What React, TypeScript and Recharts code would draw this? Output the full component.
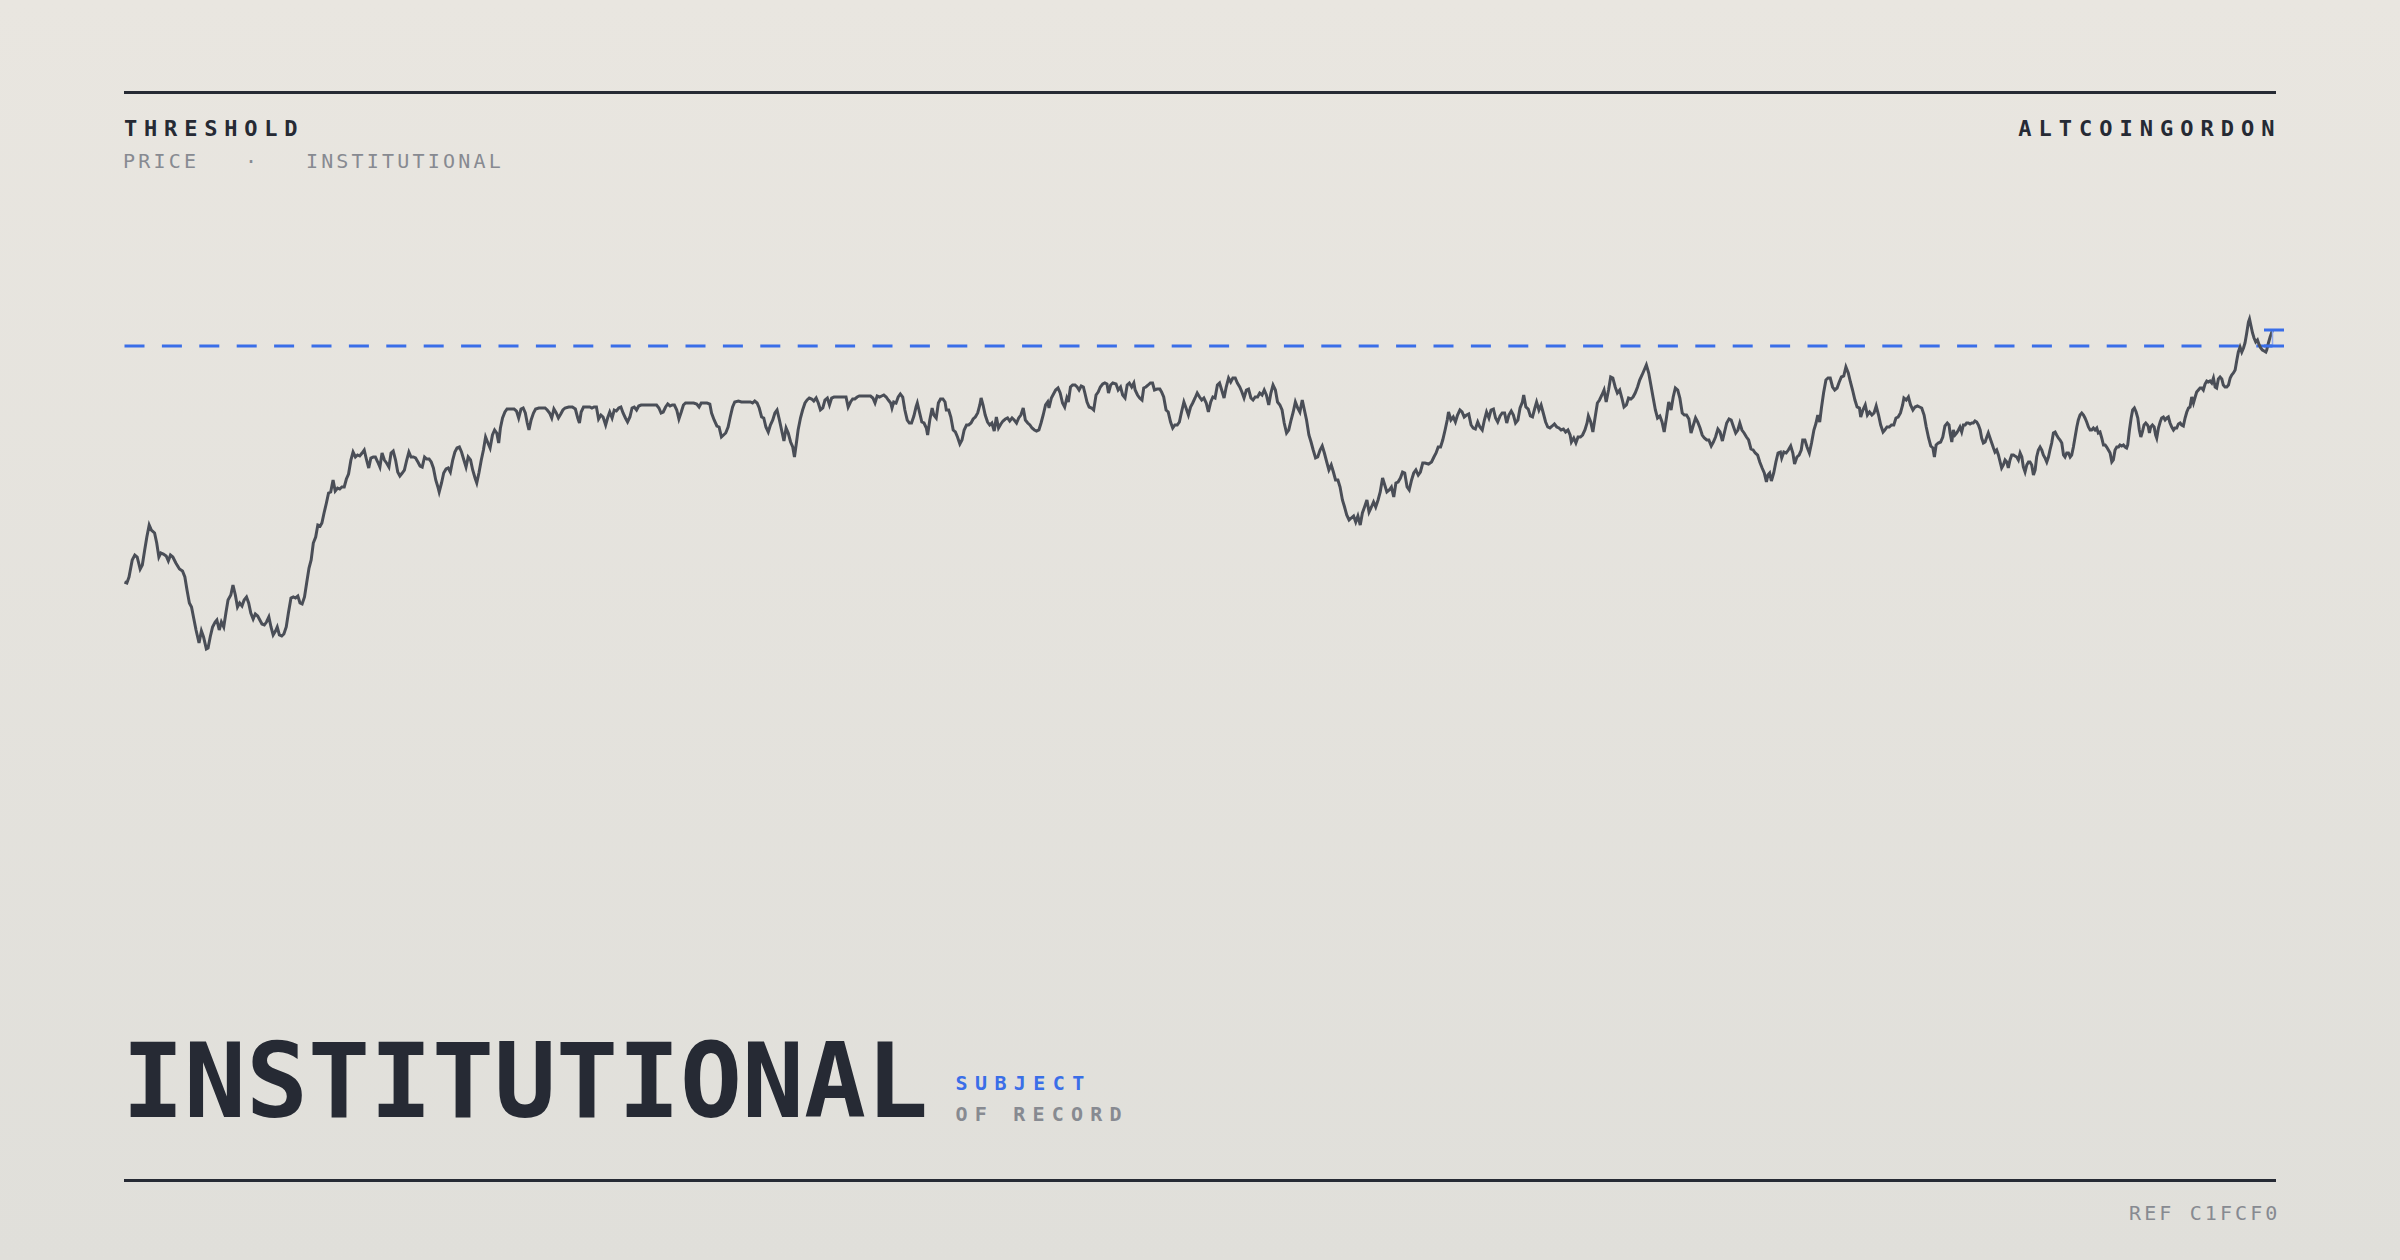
import { LineChart, Line, XAxis, YAxis, ReferenceLine, ReferenceDot } from 'recharts';

// closing prices by session in four legs
const leg1: [number, number][] = [[0,76.4],[1.1,76.3],[2.1,76.9],[3.6,78.6],[4.8,79.1],[5.9,78.9],[7.3,77.7],[8.3,78.1],[9.4,79.6],[10.4,80.9],[11.5,82.1],[12.5,81.6],[14,81.3],[15,80.3],[16,78.9],[16.9,79.3],[18.1,79.2],[19.4,79.0],[20.4,78.5],[21.4,79.1],[22.5,78.9],[23.9,78.3],[25.6,77.7],[27,77.5],[28.1,76.9],[29.1,75.6],[30.2,74.3],[31.2,73.9],[32.2,72.8],[33.3,71.6],[34.7,70.3],[35.8,71.5],[36.8,70.9],[38.1,69.7],[38.9,69.8],[39.9,70.9],[41,71.9],[42.2,72.4],[43,72.6],[44.1,71.6],[45.1,72.4],[46.2,71.9],[47.2,73.3],[48.2,74.6],[49.5,75.1],[50.5,76.1],[51.6,75.1],[52.6,73.9],[53.6,74.3],[54.7,74.0],[55.7,74.6],[56.8,74.9],[57.8,74.3],[58.8,73.3],[59.9,72.7],[60.9,73.2],[62,73.0],[63,72.6],[64,72.2],[65.1,72.1],[66.1,72.4],[67.2,72.9],[68.2,71.9],[69.2,71.1],[70.3,71.5],[71.1,71.9],[72.1,71.1],[73.2,71.0],[74.2,71.2],[75.3,71.9],[76.3,73.3],[77.5,74.8],[78.6,74.9],[79.6,74.8],[80.7,75.0],[81.7,74.3],[82.7,74.2],[83.8,74.9],[84.8,76.3],[85.9,77.8],[86.9,78.6],[87.9,80.3],[89,80.9],[90,82.1],[91.1,82.0],[91.9,82.3],[92.9,83.3],[94,84.3],[95,85.3],[96,85.4],[97.1,86.6],[98.1,85.5],[99.2,85.8],[100.2,85.7],[101.2,85.9],[102.3,85.9],[103.3,86.7],[104.3,87.2],[105.4,88.6],[106.4,89.4],[107.5,88.9],[108.5,89.1],[109.5,89.0],[110.6,89.3],[111.6,89.6],[112.7,88.6],[113.7,87.8],[114.7,88.8],[115.8,88.9],[116.8,88.9],[117.9,88.4],[118.9,87.9],[119.9,89.3],[121,88.6],[122,88.3],[123.1,87.9],[124.1,89.3],[125.1,89.5],[126.2,88.6],[127.2,87.4],[128.2,87.0],[129.3,87.3],[130.3,87.6],[131.4,88.6],[132.4,89.4],[133.4,88.9],[134.5,88.9],[135.5,88.8],[136.6,88.4],[137.6,88.0],[138.6,87.9],[139.7,88.9],[140.7,88.7],[141.8,88.7],[142.8,88.4],[143.8,87.8],[144.9,86.6],[145.9,85.9],[146.5,85.4],[147.6,86.3],[148.6,87.3],[149.7,87.7],[150.7,87.8],[151.7,87.4],[152.8,88.6],[153.8,89.4],[154.8,89.8],[155.9,89.9],[156.9,89.4],[158,88.6],[159,87.9],[160,88.9],[161.1,88.6],[162.1,87.6],[163.2,86.8],[164,86.3],[165,87.3],[166.1,88.6],[167.1,89.6],[168.1,90.9],[169.2,90.3],[170.2,89.8],[171.3,91.1],[172.3,91.6],[173.3,91.3],[174.2,90.3],[175,91.8],[176,92.8],[177.1,93.4],[178.1,93.7],[179.8,93.7],[181.4,93.7],[182.5,93.5],[183.5,92.8],[184.6,93.7],[185.6,93.8],[186.6,93.3],[187.5,92.3],[188.3,91.6],[189.3,92.6],[190.4,93.3],[191.4,93.7],[192.9,93.8],[194.3,93.8],[195.8,93.8],[196.8,93.6],[197.9,93.3],[198.9,92.8],[199.9,93.7],[201,93.3],[202,92.8],[203.1,93.2],[204.1,93.6],[205.1,93.8],[206.8,93.9],[208.5,93.9],[209.9,93.7],[211,92.8],[211.8,92.3],[212.6,93.4],[213.7,93.9],[215.1,93.9],[216.6,93.9],[217.6,93.8],[218.6,93.9],[219.7,93.9],[220.7,92.7],[221.8,93.1],[222.8,92.9],[224,92.1],[224.9,92.8],[225.9,93.4],[227,92.8],[228,93.6],[229,93.5],[230.1,93.8],[231.1,93.9],[232.1,93.3],[233.2,92.8],[234.2,92.4],[235.3,92.9],[236.3,93.8],[237.3,93.9],[238.4,93.6],[239.4,94.0],[240.5,94.1],[242.1,94.1],[244.2,94.1],[246.3,94.1],[247.7,94.1],[248.8,93.8],[249.8,93.3],[250.8,93.4],[251.9,93.9],[252.9,94.2],[254,94.0],[255,94.1],[256,94.1],[257.1,93.6],[258.1,92.7],[259.2,93.4],[260.2,94.1],[261.2,94.3],[262.9,94.3],[265,94.3],[266.4,94.2],[267.5,93.9],[268.5,94.3],[269.6,94.3],[271.2,94.3],[272.5,94.2],[273.3,93.3],[274.5,92.6],[275.8,92.0],[276.8,91.9],[277.9,90.9],[278.9,91.1],[279.9,91.3],[281,91.9],[282,92.9],[283.1,93.9],[284.1,94.4],[285.8,94.5],[287.2,94.4],[288.3,94.4],[289.9,94.4],[291.4,94.4],[292.4,94.3],[293.4,94.5],[294.5,94.3],[295.5,93.8],[296.6,92.9],[297.6,92.8],[298.6,91.9],[299.7,91.4],[300.7,92.1],[301.8,92.6],[302.8,93.3],[303.8,93.6],[304.9,92.6],[305.9,91.6],[307,90.5],[308,91.8],[309,91.3],[310.1,90.4],[311.1,89.9],[311.9,88.9],[312.8,90.3]];

const leg2: [number, number][] = [[313.6,91.6],[314.7,92.8],[315.7,93.6],[316.8,94.3],[317.8,94.6],[318.8,94.8],[319.9,94.7],[320.9,94.5],[322,94.8],[323,94.3],[324,93.6],[325.1,93.8],[326.1,94.6],[327.2,94.8],[328.2,94.1],[329.2,94.8],[330.3,94.9],[331.7,94.9],[333.4,94.9],[334.8,94.9],[335.9,94.9],[336.9,93.9],[338,94.4],[339,94.7],[340,94.7],[341.1,94.9],[342.1,95.0],[344.2,95.0],[346.3,95.0],[347.3,95.0],[348.4,94.8],[349.4,94.3],[350.4,95.0],[351.5,94.9],[352.5,95.0],[353.5,95.1],[354.6,94.9],[355.6,94.6],[356.7,94.3],[357.3,93.8],[358.1,94.4],[359.2,94.3],[360.2,94.9],[361.2,95.2],[362.3,94.9],[363.3,93.6],[364.4,92.6],[365.4,92.3],[366.4,92.3],[367.5,93.0],[368.5,93.9],[369.1,94.3],[370.2,93.3],[371.2,92.4],[372.2,92.3],[373.3,91.8],[373.9,91.1],[374.9,92.6],[376,93.8],[376.8,93.1],[377.9,92.8],[378.9,94.3],[379.9,94.7],[381,94.7],[382,94.4],[382.6,93.6],[383.7,93.6],[384.7,92.9],[385.8,91.6],[386.8,91.4],[387.8,90.9],[388.9,90.2],[389.9,90.6],[390.9,91.6],[392,92.1],[393,92.1],[394.1,92.3],[395.1,92.7],[396.1,92.9],[397.2,93.3],[398.2,94.1],[398.8,94.8],[399.7,94.1],[400.7,93.1],[401.8,92.4],[402.8,92.1],[403.8,92.3],[404.9,91.5],[405.9,92.9],[406.9,91.8],[408,92.2],[409,92.5],[410.1,92.7],[411.1,92.8],[412.1,92.5],[413.2,92.8],[414.2,92.6],[415.3,92.3],[416.3,92.8],[417.3,93.1],[418.4,93.8],[419.4,92.6],[420.5,92.3],[421.5,92.1],[422.5,91.8],[423.6,91.6],[424.6,91.5],[425.7,91.6],[426.7,92.3],[427.7,93.1],[428.8,94.1],[429.8,94.4],[430.4,93.8],[431.5,94.8],[432.5,95.2],[433.5,95.6],[434.6,95.8],[435.6,95.3],[436.7,94.3],[437.7,93.9],[438.7,94.8],[439.4,94.4],[440.4,95.9],[441.4,96.1],[442.5,96.1],[443.5,95.9],[444.4,95.6],[445.4,96.0],[446.4,95.9],[447.1,95.3],[448.1,94.4],[449.1,93.9],[450.2,93.8],[451.2,93.6],[452.3,95.1],[453.3,95.4],[454.3,95.9],[455.4,96.2],[456.4,96.3],[457.4,96.2],[458.1,95.3],[459.1,96.1],[460.1,96.3],[461.6,96.2],[462.6,95.6],[463.7,95.9],[464.7,95.1],[465.8,94.8],[466.8,96.1],[467.8,96.3],[468.9,95.9],[469.9,96.3],[470.5,95.6],[471.6,95.1],[472.6,94.8],[473.7,94.6],[474.5,95.8],[475.5,95.9],[476.6,96.1],[477.6,96.3],[478.6,96.3],[479.5,95.6],[480.7,95.7],[482,95.7],[482.8,95.4],[483.8,94.9],[484.9,93.6],[485.9,93.4],[487,92.4],[488,91.8],[489,92.1],[490.1,92.1],[491.1,92.4],[492.1,93.4],[493.2,94.4],[494.2,93.8],[495.3,93.1],[496.3,93.9],[497.3,94.3],[498.4,94.8],[499.4,95.3],[500.5,94.9],[501.5,94.6],[502.5,94.8],[503.6,94.3],[504.6,93.4],[505.7,94.4],[506.7,94.9],[507.7,94.8],[508.8,96.1],[509.8,96.3],[510.8,95.6],[511.9,94.8],[512.9,95.9],[514,96.8],[515,96.4],[516,96.8],[517.1,96.8],[518.1,96.3],[519.2,95.9],[520.2,95.4],[521.2,94.8],[522.3,95.6],[523.3,95.7],[524.4,94.8],[525.4,94.6],[526.4,94.9],[527.5,94.9],[528.5,95.3],[529.6,95.1],[530.6,95.6],[531.6,95.1],[532.7,94.1],[533.7,95.3],[534.7,96.1],[535.8,95.6],[536.8,94.4],[537.9,94.1],[538.9,93.6],[539.9,92.3],[541,91.3],[542,91.6],[543.1,92.6],[544.1,93.4],[545.1,94.4],[546.2,93.8],[547.2,93.4],[548.3,94.6],[549.3,93.6],[550.3,92.6],[551.4,91.1],[552.4,90.4],[553.4,89.6],[554.5,88.8],[555.5,88.9],[556.6,89.6],[557.6,90.0],[558.6,89.3],[559.7,88.4],[560.7,87.6],[561.8,88.1],[562.8,87.4],[563.8,86.6],[564.9,86.6],[565.9,85.9],[567,84.6],[568,83.9],[569,83.1],[570.1,82.6],[571.1,82.8],[572.2,83.0],[573.2,82.4],[574.2,83.0],[575.3,82.1],[576.3,83.3],[577.3,83.9],[578.4,84.6],[579.4,83.4],[580.5,83.9],[581.5,84.4],[582.5,83.9],[583.6,84.6],[584.6,85.4],[585.7,86.8],[586.7,86.1],[587.7,85.4],[588.8,85.6],[589.8,85.9],[590.9,84.9],[591.9,86.3],[592.9,86.4],[594,86.8],[595,87.4],[596,87.3],[597.1,85.9],[598.1,85.6],[599.2,86.6],[600.2,87.3],[601.2,87.6],[602.3,87.1],[603.3,87.4],[604.4,88.3],[605.4,88.3],[607.1,88.2],[608.5,88.4],[609.6,88.9],[610.6,89.3],[611.6,89.9],[612.7,89.9],[613.7,90.6],[614.8,91.6],[615.8,92.6],[616.4,93.4]];

const leg3: [number, number][] = [[617.5,92.6],[618.6,92.9],[619.6,92.4],[620.6,93.1],[621.7,93.6],[622.7,93.4],[623.7,92.9],[624.8,93.1],[625.8,93.2],[626.9,92.1],[627.9,91.8],[628.9,91.7],[630,92.4],[631,91.9],[632.1,91.6],[633.1,92.6],[634.1,93.4],[635.2,92.8],[636.2,93.6],[637.3,93.7],[638.3,92.8],[639.3,92.4],[640.4,93.0],[641.4,93.3],[642.5,93.3],[643.5,92.3],[644.5,93.1],[645.6,93.5],[646.6,93.1],[647.6,92.3],[648.7,92.6],[649.7,93.8],[650.8,94.4],[651.4,95.1],[652.4,93.9],[653.5,93.7],[654.5,93.0],[655.5,92.9],[656.6,93.8],[657.4,94.4],[658.5,93.6],[659.5,94.1],[660.5,93.3],[661.6,92.4],[662.6,91.9],[663.6,91.8],[664.7,92.0],[665.7,92.2],[666.8,91.9],[667.8,91.8],[668.8,91.6],[669.9,91.7],[670.9,91.4],[672,91.6],[673,91.1],[673.6,90.4],[674.7,90.8],[675.7,90.3],[676.7,90.9],[677.8,90.9],[678.8,91.1],[679.9,91.6],[680.9,92.3],[681.5,93.0],[682.6,92.4],[683.6,91.4],[684.6,92.8],[685.7,94.3],[686.7,94.6],[687.8,95.1],[688.8,95.6],[689.8,94.4],[690.9,95.6],[691.9,96.9],[692.9,96.8],[694,95.9],[695,95.3],[696.1,95.6],[697.1,94.8],[698.1,93.9],[699.2,94.1],[700.2,94.8],[701.3,94.7],[702.3,94.9],[703.3,95.3],[704.4,95.9],[705.4,96.6],[706.5,97.1],[707.5,97.6],[708.5,98.1],[709.6,97.3],[710.6,96.1],[711.6,94.9],[712.7,93.6],[713.7,92.8],[714.8,93.0],[715.8,92.4],[716.8,91.4],[717.9,92.9],[718.9,94.4],[720,93.6],[721,94.9],[722,95.8],[723.1,95.6],[724.1,94.8],[725.2,93.3],[726.2,93.1],[727.2,93.1],[728.3,92.7],[729.3,91.3],[730.4,92.1],[731.4,92.8],[732.4,92.4],[733.5,91.8],[734.5,91.1],[735.5,90.8],[736.6,90.6],[737.6,90.6],[738.7,90.0],[739.7,90.4],[740.7,90.9],[741.8,91.7],[742.8,91.4],[743.9,90.5],[744.9,91.4],[745.9,92.3],[747,92.7],[748,92.6],[749.1,91.9],[750.1,91.3],[751.1,91.6],[752,92.3],[753,91.6],[754,91.3],[755.1,90.9],[756.1,90.6],[757.2,89.7],[758.2,89.6],[759.2,89.3],[760.3,89.1],[761.3,88.4],[762.4,87.8],[763.4,87.3],[764.4,86.4],[765.1,87.1],[765.9,87.3],[766.7,86.5],[767.8,87.3],[768.8,88.4],[769.8,89.3],[770.9,89.4],[771.5,88.8],[772.5,89.4],[773.6,89.3],[774.6,89.6],[775.7,90.0],[776.7,89.3],[777.5,88.2],[778.6,88.9],[779.6,89.1],[780.6,89.6],[781.3,90.6],[782.3,90.6],[783.3,89.9],[784.4,89.3],[785.4,90.3],[786.5,91.6],[787.5,92.3],[788.3,93.1],[789.2,92.4],[790,93.8],[791,95.3],[792.1,96.6],[793.1,96.8],[794.1,96.8],[795.2,95.9],[796.2,95.6],[797.3,95.8],[798.3,96.4],[799.3,96.9],[800.4,97.0],[801.4,97.9],[802.5,97.3],[803.5,96.4],[804.5,95.6],[805.6,94.6],[806.6,93.9],[807.7,93.8],[808.3,92.9],[809.3,93.6],[810.4,94.1],[811.4,93.1],[812.4,93.4],[813.5,93.1],[814.5,93.3],[815.5,94.0],[816.6,93.1],[817.6,92.1],[818.7,91.4],[819.5,91.6],[820.5,91.9],[821.6,91.9],[822.6,92.1],[823.7,92.1],[824.7,92.8],[825.7,92.9],[826.8,93.3],[827.8,94.1],[828.4,94.8],[829.5,94.6],[830.5,94.9],[831.5,94.1],[832.6,93.6],[833.6,93.9],[834.7,94.0],[835.7,93.9],[836.7,93.8],[837.8,93.1],[838.8,91.9],[839.9,90.8],[840.9,90.0],[841.9,89.8],[842.6,88.9],[843.4,90.1],[844.4,90.3],[845.5,90.4],[846.5,90.9],[847.5,92.0],[848.6,92.3],[849.4,92.1]];

const leg4: [number, number][] = [[849.9,91.3],[850.7,90.4],[851.4,91.6],[852.2,91.1],[853,91.3],[853.8,91.6],[854.5,91.9],[855.3,91.4],[856.1,92.1],[856.9,92.1],[857.6,92.3],[858.4,92.3],[859.2,92.2],[860,92.3],[860.7,92.3],[861.5,92.5],[862.3,92.4],[863.1,92.1],[863.9,91.6],[864.6,90.8],[865.4,90.3],[866.2,90.4],[867,90.9],[867.7,91.3],[868.5,90.8],[869.3,90.3],[870.1,89.8],[870.8,89.4],[871.6,89.6],[872.4,89.1],[873.2,88.4],[873.9,87.8],[874.7,88.1],[875.5,88.6],[876.3,88.4],[877,87.8],[877.8,88.6],[878.6,89.1],[879.4,89.1],[880.1,89.0],[880.9,88.9],[881.7,88.6],[882.5,89.3],[883.3,88.9],[884,87.9],[884.8,87.4],[885.6,88.1],[886.4,88.4],[887.1,88.4],[887.9,88.1],[888.7,87.1],[889.5,87.6],[890.2,88.9],[891,89.6],[891.8,89.9],[892.6,89.6],[893.3,89.1],[894.1,88.8],[894.9,88.4],[895.7,88.9],[896.4,89.6],[897.2,90.3],[898,91.3],[898.8,91.4],[899.5,91.1],[900.3,90.8],[901.1,90.6],[901.9,90.3],[902.7,89.1],[903.4,88.9],[904.2,89.3],[905,89.3],[905.8,88.9],[906.5,89.1],[907.3,89.9],[908.1,90.9],[908.9,91.9],[909.6,92.6],[910.4,93.1],[911.2,93.3],[912,93.1],[912.7,92.8],[913.5,92.4],[914.3,91.9],[915.1,91.6],[915.8,91.6],[916.6,91.8],[917.4,91.6],[918.2,91.8],[918.9,91.3],[919.7,91.4],[920.5,90.8],[921.3,90.1],[922.1,90.1],[922.8,89.9],[923.6,89.6],[924.4,89.3],[925.2,88.4],[925.9,88.6],[926.7,89.6],[927.5,89.9],[928.3,89.9],[929,90.1],[929.8,90.0],[930.6,90.1],[931.4,89.9],[932.1,89.8],[932.6,90.1],[933.4,91.6],[934.2,92.8],[934.9,93.6],[935.7,93.8],[936.5,93.4],[937.3,92.8],[938,91.6],[938.7,90.9],[939.4,91.4],[940.2,92.1],[941,92.3],[941.8,92.1],[942.2,91.9],[942.7,91.3],[943.3,91.9],[944.1,92.1],[944.9,91.9],[945.6,91.1],[946.1,90.8],[946.9,91.8],[947.7,92.4],[948.4,92.8],[949.2,92.9],[950,92.6],[950.8,92.8],[951.5,92.9],[952.3,92.3],[953.1,91.9],[953.9,91.6],[954.6,91.8],[955.4,91.8],[956.2,92.2],[957,92.3],[957.7,92.1],[958.5,92.0],[959.3,92.8],[960.1,93.4],[960.9,93.8],[961.6,93.9],[962.4,94.9],[963.2,94.3],[964,94.9],[964.7,95.4],[965.5,95.6],[966.3,95.8],[967.1,95.8],[967.8,95.6],[968.6,96.2],[969.4,96.5],[970.2,96.4],[970.9,96.5],[971.7,96.3],[972.5,96.8],[973.3,95.9],[974,95.8],[974.8,96.7],[975.6,96.9],[976.4,96.7],[977.1,96.1],[977.9,95.9],[978.7,95.9],[979.5,96.1],[980.3,96.8],[981,97.1],[981.8,97.3],[982.6,97.6],[983.4,98.6],[984.1,99.4],[984.9,99.9],[985.7,99.4],[986.5,99.8],[987.2,100.3],[988,101.3],[988.8,102.4],[989.3,102.7],[989.9,102.1],[990.7,101.3],[991.4,100.8],[992.2,100.4],[993,100.6],[993.8,100.1],[994.5,99.8],[995.3,99.6],[996.1,99.5],[996.9,99.4],[997.3,99.6],[998.1,100.3],[998.9,100.9],[999.7,101.4],[1000,101.6]];

const THRESHOLD = 100;
const SESSION_RANGE: [number, number] = [0, 1000];
const PRICE_RANGE: [number, number] = [65, 105];

const INK = '#262a34';
const MUTED = '#878a91';
const BLUE = '#3a6ee8';
const FONT = "'DejaVu Sans Mono', 'Liberation Mono', monospace";

const series = [...leg1, ...leg2, ...leg3, ...leg4].map(([session, close]) => ({ session, close }));
const last = series[series.length - 1];

const Tick = (props: { cx?: number; cy?: number }) => {
  const { cx = 0, cy = 0 } = props;
  return <line x1={cx - 8.5} x2={cx + 11.5} y1={cy} y2={cy} stroke={BLUE} strokeWidth={3} />;
};

// text block positioned by its baseline (DejaVu Sans Mono, line-height 1)
function Text({ x, right, baseline, size, children, style }: { x?: number; right?: number; baseline: number; size: number; children: React.ReactNode; style?: React.CSSProperties }) {
  return (
    <div
      style={{
        position: 'absolute',
        left: x,
        right,
        top: baseline - size * 0.846,
        fontFamily: FONT,
        fontSize: size,
        lineHeight: 1,
        whiteSpace: 'pre',
        ...style,
      }}
    >
      {children}
    </div>
  );
}

export default function App() {
  return (
    <div
      style={{
        position: 'absolute',
        left: 0,
        top: 0,
        width: 2400,
        height: 1260,
        overflow: 'hidden',
        background: 'linear-gradient(180deg, #e9e6e0 0%, #e0dfda 100%)',
      }}
    >
      <div style={{ position: 'absolute', left: 124, top: 91, width: 2152, height: 3, background: INK }} />
      <div style={{ position: 'absolute', left: 124, top: 1179, width: 2152, height: 3, background: INK }} />

      <Text x={124} baseline={136.5} size={22} style={{ fontWeight: 700, letterSpacing: 6.8, color: INK }}>THRESHOLD</Text>
      <Text x={123} baseline={168} size={20} style={{ letterSpacing: 3.2, color: MUTED }}>{'PRICE   ·   INSTITUTIONAL'}</Text>
      <Text right={118.5} baseline={136.5} size={22} style={{ fontWeight: 700, letterSpacing: 7, color: INK }}>ALTCOINGORDON</Text>

      <Text x={122} baseline={1117} size={103} style={{ fontWeight: 700, color: INK }}>INSTITUTIONAL</Text>
      <Text x={955.5} baseline={1090} size={20} style={{ fontWeight: 700, letterSpacing: 7.4, color: BLUE }}>SUBJECT</Text>
      <Text x={955.5} baseline={1121} size={20} style={{ fontWeight: 700, letterSpacing: 7.2, color: MUTED }}>OF RECORD</Text>
      <Text right={119.5} baseline={1220} size={20} style={{ letterSpacing: 3.1, color: MUTED }}>REF C1FCF0</Text>

      <div style={{ position: 'absolute', left: 0, top: 0 }}>
        <LineChart width={2400} height={1260} data={series} margin={{ top: 296, right: 127.5, bottom: 564, left: 124.5 }}>
          <XAxis type="number" dataKey="session" domain={SESSION_RANGE} hide />
          <YAxis type="number" domain={PRICE_RANGE} hide />
          <ReferenceLine y={THRESHOLD} stroke={BLUE} strokeWidth={3} strokeDasharray="20 17.4" />
          <Line
            type="linear"
            dataKey="close"
            stroke="#4a4e57"
            strokeWidth={3}
            dot={false}
            activeDot={false}
            isAnimationActive={false}
          />
          <ReferenceLine
            segment={[{ x: last.session, y: THRESHOLD }, { x: last.session, y: last.close }]}
            stroke="#8fa9ee"
            strokeWidth={1.5}
          />
          <ReferenceDot x={last.session} y={last.close} shape={<Tick />} />
          <ReferenceDot x={last.session} y={THRESHOLD} shape={<Tick />} />
        </LineChart>
      </div>
    </div>
  );
}
